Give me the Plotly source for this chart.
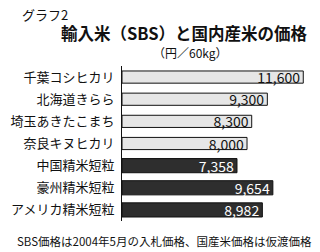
import plotly.graph_objects as go

categories = ["千葉コシヒカリ", "北海道きらら", "埼玉あきたこまち", "奈良キヌヒカリ",
              "中国精米短粒", "豪州精米短粒", "アメリカ精米短粒"]
values = [11600, 9300, 8300, 8000, 7358, 9654, 8982]
kinds = ["domestic"] * 4 + ["imported"] * 3

fill = ["#e6e6e6" if k == "domestic" else "#2e2e2e" for k in kinds]
txtc = ["#111111" if k == "domestic" else "#ffffff" for k in kinds]
widths = [0.55 if k == "domestic" else 0.64 for k in kinds]

FONT = "Noto Sans CJK JP"
L, R, T, B = 115, 10, 66, 31
W, H = 320, 252
pw, ph = W - L - R, H - T - B


def px(x):
    return (x - L) / pw


def py(y):
    return 1 - (y - T) / ph


fig = go.Figure(go.Bar(
    x=values, y=categories, orientation="h",
    marker=dict(color=fill, line=dict(color="#111111", width=1)),
    width=widths,
    text=[f"{v:,}" for v in values],
    textposition="inside", insidetextanchor="end", constraintext="none",
    textfont=dict(color=txtc, size=14, family=FONT),
    cliponaxis=False,
))

fig.update_layout(
    width=W, height=H,
    margin=dict(l=L, r=R, t=T, b=B),
    paper_bgcolor="white", plot_bgcolor="white",
    showlegend=False,
    font=dict(family=FONT, color="#111111"),
    xaxis=dict(range=[0, 12030], visible=False, fixedrange=True),
    yaxis=dict(autorange="reversed", showline=True, linecolor="#111111", linewidth=1,
               ticks="", tickfont=dict(size=13, family=FONT, color="#111111"),
               ticklabelstandoff=4, showgrid=False),
    annotations=[
        dict(text="グラフ2", x=px(9), y=py(14), xref="paper", yref="paper", showarrow=False,
             xanchor="left", yanchor="middle", font=dict(size=13, family=FONT)),
        dict(text="<b>輸入米（SBS）と国内産米の価格</b>", x=px(180), y=py(33),
             xref="paper", yref="paper", showarrow=False,
             xanchor="center", yanchor="middle", font=dict(size=16.5, family=FONT)),
        dict(text="（円／60kg）", x=px(186), y=py(52), xref="paper", yref="paper",
             showarrow=False, xanchor="center", yanchor="middle",
             font=dict(size=12, family=FONT)),
        dict(text="SBS価格は2004年5月の入札価格、国産米価格は仮渡価格", x=px(159), y=py(241),
             xref="paper", yref="paper", showarrow=False, xanchor="center",
             yanchor="middle", font=dict(size=11.5, family=FONT)),
    ],
)

fig.write_html("out.html")
